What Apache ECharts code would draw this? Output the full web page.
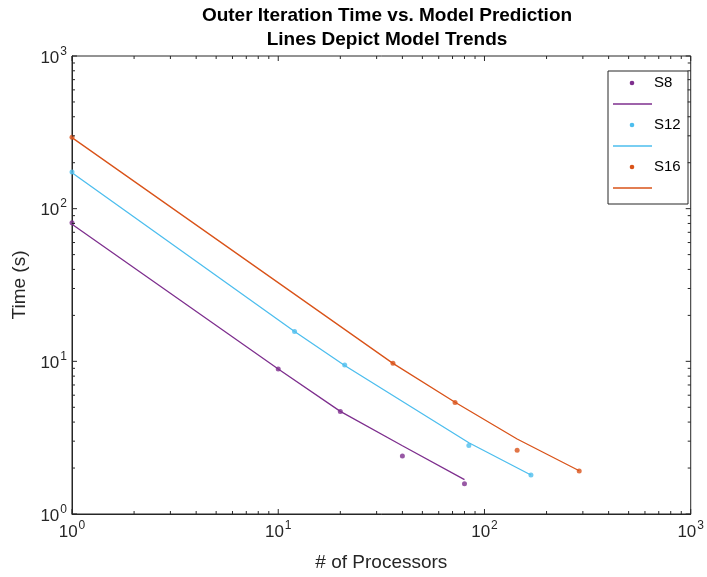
<!DOCTYPE html>
<html>
<head>
<meta charset="utf-8">
<title>Outer Iteration Time vs. Model Prediction</title>
<script src="https://cdn.jsdelivr.net/npm/echarts@6/dist/echarts.min.js"></script>
<style>
  html, body { margin: 0; padding: 0; background: #fff; }
  #chart { width: 707px; height: 577px; }
</style>
</head>
<body>
<div id="chart"></div>
<script>
// Measured outer-iteration times (s) and model predictions per problem size
const procS8 = [1, 10, 20, 40, 80];
const timeS8 = [81, 8.9, 4.7, 2.4, 1.58];
const modelS8 = [79, 8.9, 4.7, 2.8, 1.68];

const procS12 = [1, 12, 21, 84, 168];
const timeS12 = [174, 15.7, 9.46, 2.81, 1.8];
const modelS12 = [172, 15.7, 9.4, 2.93, 1.8];

const procS16 = [1, 36, 72, 144, 288];
const timeS16 = [294, 9.7, 5.37, 2.62, 1.91];
const modelS16 = [292, 9.7, 5.4, 3.1, 1.92];

const seriesNames = ['S8', 'S12', 'S16'];
const seriesColors = ['#7E2F8E', '#4DBEEE', '#D95319'];

// Axis decades and the 2..9 minor positions inside each decade
const decadeExponents = [0, 1, 2, 3];
const minorMultipliers = [2, 3, 4, 5, 6, 7, 8, 9];

const axisColor = '#262626';
const fontFamily = 'Liberation Sans, Arial, Helvetica, sans-serif';

function zip(xs, ys) { return xs.map((x, i) => [x, ys[i]]); }

function tickValues() {
  const out = [];
  decadeExponents.forEach(e => {
    out.push([Math.pow(10, e), 1]);
    if (e < 3) minorMultipliers.forEach(m => out.push([m * Math.pow(10, e), 0]));
  });
  return out;
}

const powLabel = v => '{b|10}{s|' + Math.round(Math.log10(v)) + '}';
const labelRich = {
  b: { fontSize: 17, color: axisColor, fontFamily: fontFamily, verticalAlign: 'bottom', lineHeight: 21 },
  s: { fontSize: 12, color: axisColor, fontFamily: fontFamily, verticalAlign: 'top', lineHeight: 21, padding: [0, 0, 0, 1] }
};

const chart = echarts.init(document.getElementById('chart'), null, { renderer: 'canvas' });

const measured = [zip(procS8, timeS8), zip(procS12, timeS12), zip(procS16, timeS16)];
const model = [zip(procS8, modelS8), zip(procS12, modelS12), zip(procS16, modelS16)];

const series = [];
seriesNames.forEach((name, i) => {
  series.push({
    name: name,
    type: 'line',
    data: model[i],
    showSymbol: false,
    symbol: 'none',
    lineStyle: { color: seriesColors[i], width: 1.3 },
    z: 3,
    silent: true
  });
  series.push({
    name: name + ' measured',
    type: 'scatter',
    data: measured[i],
    symbol: 'circle',
    symbolSize: 5,
    itemStyle: { color: seriesColors[i] },
    z: 4,
    silent: true
  });
});

// Inward ticks on all four sides of the box
const ticks = tickValues();
series.push({
  type: 'custom',
  coordinateSystem: 'cartesian2d',
  silent: true,
  clip: false,
  z: 10,
  data: ticks,
  renderItem: function (params, api) {
    const v = api.value(0);
    const len = api.value(1) ? 5 : 3;
    const b = api.coord([v, 1]);
    const t = api.coord([v, 1000]);
    const style = { stroke: axisColor, lineWidth: 1 };
    return {
      type: 'group',
      children: [
        { type: 'line', shape: { x1: b[0], y1: b[1], x2: b[0], y2: b[1] - len }, style: style },
        { type: 'line', shape: { x1: t[0], y1: t[1], x2: t[0], y2: t[1] + len }, style: style }
      ]
    };
  }
});
series.push({
  type: 'custom',
  coordinateSystem: 'cartesian2d',
  silent: true,
  clip: false,
  z: 10,
  data: ticks.map(d => [1, d[0], d[1]]),
  renderItem: function (params, api) {
    const v = api.value(1);
    const len = api.value(2) ? 5 : 3;
    const l = api.coord([1, v]);
    const r = api.coord([1000, v]);
    const style = { stroke: axisColor, lineWidth: 1 };
    return {
      type: 'group',
      children: [
        { type: 'line', shape: { x1: l[0], y1: l[1], x2: l[0] + len, y2: l[1] }, style: style },
        { type: 'line', shape: { x1: r[0], y1: r[1], x2: r[0] - len, y2: r[1] }, style: style }
      ]
    };
  }
});

// Legend box: marker row with label, then the model-line row
const legendLeft = 608, legendTop = 71, rowGap = 21;
const legendChildren = [{
  type: 'rect',
  shape: { x: legendLeft, y: legendTop, width: 80, height: 133 },
  style: { fill: '#fff', stroke: axisColor, lineWidth: 1 }
}];
seriesNames.forEach((name, i) => {
  const yDot = legendTop + 12 + i * 2 * rowGap;
  const yLine = yDot + rowGap;
  legendChildren.push({
    type: 'circle', shape: { cx: legendLeft + 24, cy: yDot, r: 2.3 },
    style: { fill: seriesColors[i] }
  });
  legendChildren.push({
    type: 'text', x: legendLeft + 46, y: yDot,
    style: { text: name, fill: '#000', font: '15px ' + fontFamily, verticalAlign: 'middle' }
  });
  legendChildren.push({
    type: 'line', shape: { x1: legendLeft + 5, y1: yLine, x2: legendLeft + 44, y2: yLine },
    style: { stroke: seriesColors[i], lineWidth: 1.3 }
  });
});

const option = {
  backgroundColor: '#fff',
  animation: false,
  title: {
    text: 'Outer Iteration Time vs. Model Prediction\nLines Depict Model Trends',
    left: 382,
    textAlign: 'center',
    top: -1,
    textStyle: { fontFamily: fontFamily, fontSize: 19, fontWeight: 'bold', color: '#000', lineHeight: 24 }
  },
  grid: { left: 72, right: 13, top: 56, bottom: 62, show: true, borderColor: axisColor, borderWidth: 1, backgroundColor: '#fff' },
  xAxis: {
    type: 'log',
    logBase: 10,
    min: 1,
    max: 1000,
    name: '# of Processors',
    nameLocation: 'middle',
    nameGap: 39,
    nameTextStyle: { fontFamily: fontFamily, fontSize: 19, color: axisColor },
    axisLine: { show: true, lineStyle: { color: axisColor } },
    axisTick: { show: false },
    splitLine: { show: false },
    axisLabel: { formatter: powLabel, rich: labelRich, margin: 6 }
  },
  yAxis: {
    type: 'log',
    logBase: 10,
    min: 1,
    max: 1000,
    name: 'Time (s)',
    nameLocation: 'middle',
    nameGap: 41,
    nameTextStyle: { fontFamily: fontFamily, fontSize: 19, color: axisColor },
    axisLine: { show: true, lineStyle: { color: axisColor } },
    axisTick: { show: false },
    splitLine: { show: false },
    axisLabel: { formatter: powLabel, rich: labelRich, margin: 5 }
  },
  series: series,
  graphic: legendChildren
};

chart.setOption(option);
</script>
</body>
</html>
